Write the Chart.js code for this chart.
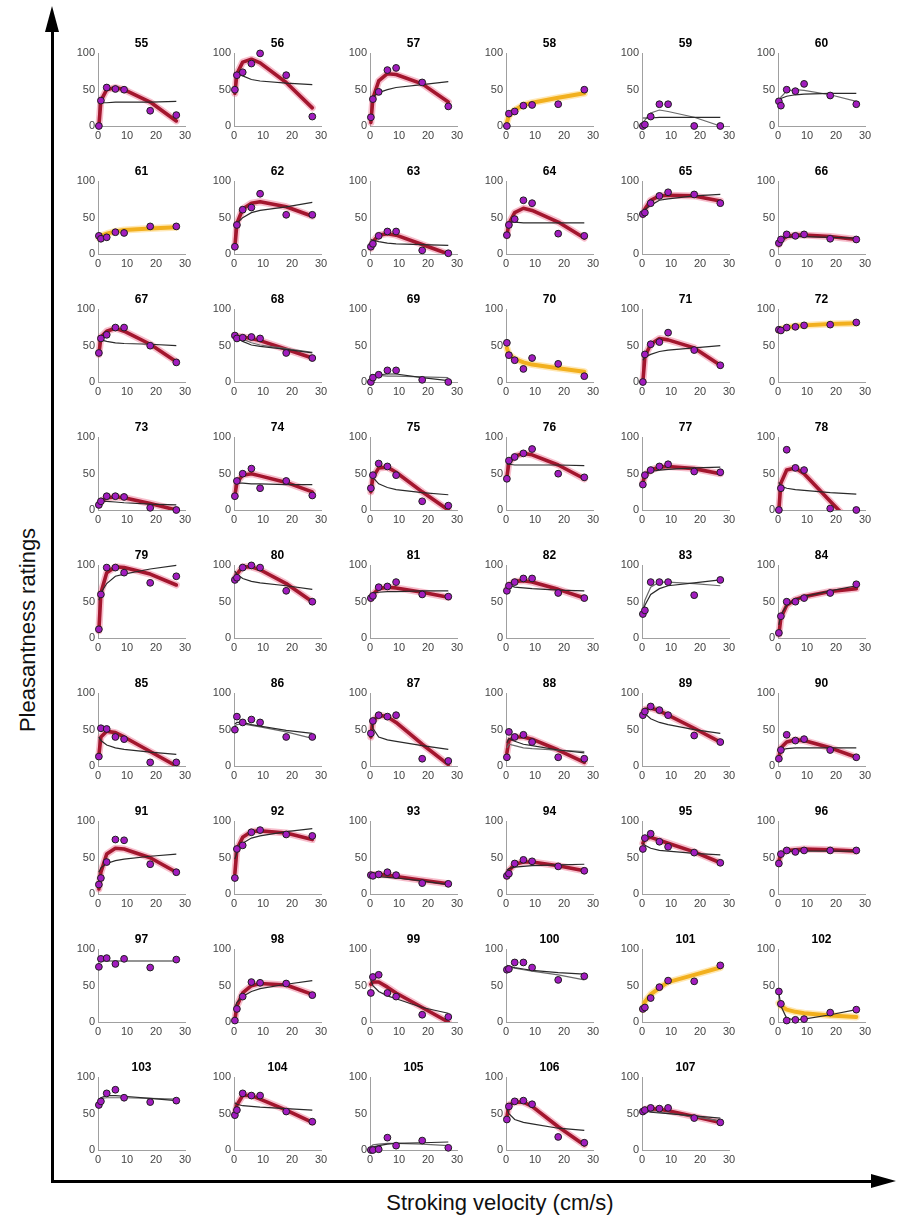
<!DOCTYPE html>
<html>
<head>
<meta charset="utf-8">
<script src="https://cdn.jsdelivr.net/npm/chart.js@4.4.1/dist/chart.umd.min.js"></script>
<style>
  body { margin: 0; background: #fff; font-family: "Liberation Sans", Arial, sans-serif; }
  #page { position: relative; width: 897px; height: 1220px; overflow: hidden; }
  canvas { position: absolute; }
  .line { position: absolute; background: #000; }
  .xlabel { position: absolute; left: 0; width: 1000px; top: 1190px; text-align: center; font-size: 22px; color: #111; }
  .ylabel { position: absolute; left: 28px; top: 630px; transform: translate(-50%, -50%) rotate(-90deg); font-size: 22px; color: #111; white-space: nowrap; }
</style>
</head>
<body>
<div id="page">
  <div class="line" style="left:51px;top:30px;width:3px;height:1153px"></div>
  <div style="position:absolute;left:45px;top:6px;width:0;height:0;border-left:7px solid transparent;border-right:7px solid transparent;border-bottom:26px solid #000"></div>
  <div class="line" style="left:51px;top:1180px;width:822px;height:3px"></div>
  <div style="position:absolute;left:871px;top:1174px;width:0;height:0;border-top:7px solid transparent;border-bottom:7px solid transparent;border-left:25px solid #000"></div>
  <div class="ylabel">Pleasantness ratings</div>
  <div class="xlabel">Stroking velocity (cm/s)</div>
</div>
<script>
// stroking velocities (cm/s) shared by every panel
const velocities = [0.3, 1, 3, 6, 9, 18, 27];
const xTicks = [0, 10, 20, 30];
const yTicks = [0, 50, 100];

const panelIds = [55, 56, 57, 58, 59, 60, 61, 62, 63, 64, 65, 66, 67, 68, 69, 70, 71, 72,
  73, 74, 75, 76, 77, 78, 79, 80, 81, 82, 83, 84, 85, 86, 87, 88, 89, 90,
  91, 92, 93, 94, 95, 96, 97, 98, 99, 100, 101, 102, 103, 104, 105, 106, 107];

// mean pleasantness rating per velocity (dots)
const ratings = [
  [0, 35, 53, 51, 50, 21, 15], [50, 70, 74, 86, 100, 70, 13], [12, 37, 47, 77, 80, 60, 27],
  [0, 17, 20, 28, 29, 30, 50], [0, 2, 13, 30, 30, 0, 0], [34, 28, 50, 48, 58, 42, 30],
  [25, 21, 23, 30, 29, 38, 38], [10, 40, 61, 64, 83, 54, 54], [10, 14, 25, 31, 31, 5, 1],
  [26, 40, 48, 74, 70, 28, 25], [55, 57, 70, 80, 85, 82, 70], [15, 20, 27, 25, 27, 21, 20],
  [40, 60, 65, 75, 75, 50, 27], [64, 60, 61, 62, 60, 40, 33], [0, 6, 10, 16, 16, 3, 0],
  [54, 37, 30, 18, 33, 25, 8], [0, 38, 52, 55, 68, 44, 23], [72, 71, 75, 76, 78, 79, 82],
  [7, 12, 19, 19, 18, 3, 0], [19, 40, 50, 57, 30, 40, 20], [30, 48, 64, 60, 48, 12, 6],
  [43, 68, 73, 78, 84, 50, 45], [35, 48, 55, 60, 63, 53, 52], [0, 30, 83, 58, 55, 2, 0],
  [12, 60, 97, 97, 90, 76, 85], [80, 83, 97, 100, 97, 65, 50], [55, 58, 70, 71, 77, 60, 57],
  [65, 72, 77, 82, 82, 62, 55], [33, 38, 77, 77, 77, 59, 80], [7, 30, 50, 50, 55, 62, 74],
  [13, 52, 51, 40, 37, 5, 5], [50, 68, 60, 64, 60, 40, 40], [45, 62, 70, 68, 70, 10, 7],
  [12, 47, 40, 43, 33, 12, 10], [70, 75, 82, 77, 70, 42, 33], [10, 22, 43, 35, 37, 22, 12],
  [13, 22, 44, 75, 74, 41, 30], [22, 62, 67, 85, 88, 82, 80], [26, 25, 27, 30, 26, 15, 14],
  [25, 28, 42, 47, 45, 38, 32], [62, 77, 83, 72, 65, 57, 43], [42, 55, 60, 58, 60, 60, 60],
  [76, 87, 88, 80, 87, 75, 86], [2, 18, 35, 55, 54, 53, 37], [40, 62, 65, 40, 35, 10, 7],
  [72, 73, 82, 82, 75, 58, 63], [18, 20, 33, 48, 57, 56, 78], [42, 25, 2, 3, 4, 13, 17],
  [62, 67, 78, 83, 72, 66, 68], [48, 55, 78, 75, 75, 53, 39], [0, 0, 1, 17, 6, 13, 3],
  [42, 60, 67, 68, 63, 18, 10], [53, 55, 58, 57, 58, 44, 38]
];

// thick fitted curve: 'r' = red, 'y' = yellow, '' = none
const fitKind = ['r', 'r', 'r', 'y', '', '', 'y', 'r', 'r', 'r', 'r', 'r', 'r', 'r', '', 'y', 'r', 'y',
  'r', 'r', 'r', 'r', 'r', 'r', 'r', 'r', 'r', 'r', '', 'r', 'r', '', 'r', 'r', 'r', 'r',
  'r', 'r', 'r', 'r', 'r', 'r', '', 'r', 'r', '', 'y', 'y', '', 'r', '', 'r', 'r'];

const fitCurve = [
  [0, 35, 50, 53, 50, 33, 7], [45, 72, 88, 92, 87, 60, 25], [5, 38, 62, 72, 71, 58, 33],
  [5, 14, 22, 29, 32, 39, 45], null, null,
  [22, 25, 28, 31, 33, 35, 37], [10, 42, 62, 70, 72, 65, 52], [8, 17, 26, 28, 26, 13, 0],
  [25, 42, 57, 63, 60, 44, 22], [54, 62, 74, 80, 81, 80, 73], [13, 19, 24, 26, 26, 24, 20],
  [38, 62, 70, 74, 70, 52, 28], [64, 63, 62, 60, 57, 45, 33], null,
  [47, 38, 32, 27, 24, 19, 14], [0, 35, 52, 60, 58, 47, 23], [71, 73, 75, 77, 78, 80, 81],
  [7, 12, 17, 18, 17, 9, 0], [20, 38, 48, 50, 47, 38, 25], [25, 45, 58, 59, 52, 25, 0],
  [45, 65, 74, 78, 76, 62, 43], [38, 48, 55, 59, 60, 57, 50], [0, 37, 55, 58, 50, 12, -25],
  [10, 62, 90, 98, 97, 88, 73], [82, 88, 98, 98, 94, 75, 50], [54, 60, 68, 70, 69, 63, 56],
  [67, 73, 78, 79, 77, 67, 55], null, [5, 28, 45, 53, 57, 64, 68],
  [15, 40, 48, 46, 40, 20, 0], null, [40, 62, 70, 68, 60, 30, 2],
  [18, 35, 40, 40, 37, 22, 5], [73, 78, 80, 76, 70, 52, 33], [12, 25, 33, 36, 35, 25, 12],
  [7, 30, 55, 63, 62, 50, 30], [28, 62, 78, 86, 87, 84, 75], [27, 27, 27, 26, 24, 19, 14],
  [24, 32, 41, 44, 44, 39, 32], [70, 76, 78, 74, 70, 58, 43], [45, 55, 60, 61, 62, 61, 59],
  null, [3, 22, 40, 50, 53, 51, 38], [52, 55, 55, 48, 40, 20, 0],
  null, [17, 28, 38, 47, 55, 65, 75], [26, 22, 17, 14, 12, 9, 7],
  null, [50, 62, 75, 75, 70, 55, 38], null,
  [45, 62, 66, 66, 60, 32, 7], [53, 56, 57, 56, 54, 46, 38]
];

// thin black comparison fit
const logFit = [
  [31, 32, 32, 33, 33, 33, 34], [68, 72, 69, 64, 62, 59, 57], [36, 40, 46, 50, 53, 57, 61],
  null, [11, 11, 11, 12, 12, 12, 12], [35, 38, 41, 43, 44, 45, 45],
  null, [38, 42, 50, 57, 60, 65, 71], [20, 19, 17, 15, 14, 13, 12],
  [44, 44, 44, 43, 43, 43, 43], [56, 61, 67, 74, 76, 80, 82], [20, 22, 23, 24, 24, 23, 22],
  [60, 58, 56, 54, 53, 52, 50], [62, 61, 56, 51, 49, 45, 40], [8, 9, 10, 11, 11, 6, 2],
  null, [30, 34, 38, 42, 44, 47, 50], null,
  [12, 12, 12, 11, 10, 8, 7], [37, 37, 37, 36, 36, 35, 35], [52, 45, 36, 31, 28, 24, 21],
  [63, 63, 62, 62, 62, 62, 61], [48, 50, 53, 55, 56, 58, 59], [38, 33, 30, 28, 27, 24, 22],
  [52, 62, 75, 85, 88, 95, 100], [92, 88, 82, 78, 76, 72, 67], [60, 62, 63, 64, 64, 65, 65],
  [75, 73, 70, 69, 68, 66, 65], [35, 45, 60, 68, 72, 76, 80], [18, 32, 45, 53, 57, 65, 72],
  [40, 35, 29, 25, 23, 19, 16], [58, 60, 60, 57, 55, 49, 45], [65, 52, 40, 36, 34, 28, 23],
  [32, 38, 34, 30, 28, 22, 18], [78, 72, 65, 60, 57, 50, 45], [20, 22, 24, 25, 25, 25, 25],
  [30, 36, 42, 46, 48, 52, 55], [48, 57, 70, 77, 80, 86, 90], [25, 25, 24, 23, 22, 18, 13],
  [33, 35, 37, 38, 39, 40, 41], [70, 67, 63, 60, 59, 56, 54], [55, 57, 58, 59, 59, 59, 59],
  [83, 84, 84, 84, 84, 84, 84], [20, 27, 35, 42, 46, 52, 57], [58, 50, 42, 36, 32, 20, 12],
  [78, 77, 75, 73, 71, 68, 66], null, [40, 22, 5, 3, 4, 10, 17],
  [68, 72, 75, 75, 74, 71, 68], [65, 63, 61, 60, 59, 57, 55], [2, 4, 6, 8, 9, 10, 11],
  [57, 50, 42, 38, 36, 30, 27], [55, 54, 52, 51, 50, 47, 44]
];

// second thin (grey) fit, only where it is visible
const logFit2 = {
  59: [5, 8, 18, 22, 20, 12, 0],
  60: [30, 40, 48, 50, 49, 43, 34],
  68: [63, 62, 59, 54, 51, 46, 41],
  69: [10, 10, 9, 8, 8, 7, 6],
  83: [38, 52, 70, 77, 77, 75, 72],
  86: [55, 57, 58, 56, 54, 47, 38],
  88: [25, 30, 28, 25, 24, 22, 20],
  100: [75, 76, 74, 72, 70, 65, 58],
  103: [70, 71, 72, 72, 72, 71, 70],
  105: [5, 7, 8, 9, 9, 8, 6],
  107: [52, 53, 53, 52, 51, 46, 40]
};

const FONT = '"Liberation Sans", Arial, sans-serif';
const COL_X = 98, COL_STEP = 136, ROW_Y = 53, ROW_STEP = 128;
const PLOT_W = 87, PLOT_H = 73;
const PAD_L = 34, PAD_T = 22, PAD_R = 14, PAD_B = 20;

const page = document.getElementById('page');

function pts(vals) {
  return vals.map((v, k) => ({ x: velocities[k], y: v }));
}

const lineClip = { left: 6, right: 6, top: 6, bottom: 0 };

panelIds.forEach((id, i) => {
  const col = i % 6, row = Math.floor(i / 6);
  const canvas = document.createElement('canvas');
  canvas.width = PAD_L + PLOT_W + PAD_R;
  canvas.height = PAD_T + PLOT_H + PAD_B;
  canvas.style.left = (COL_X + COL_STEP * col - PAD_L) + 'px';
  canvas.style.top = (ROW_Y + ROW_STEP * row - PAD_T) + 'px';
  page.appendChild(canvas);

  const datasets = [{
    type: 'scatter', data: pts(ratings[i]), order: 0, clip: false,
    pointRadius: 3.4, pointBackgroundColor: '#a21cbf', pointBorderColor: '#1e1e1e', pointBorderWidth: 1
  }];
  if (logFit[i]) {
    datasets.push({ data: pts(logFit[i]), order: 1, borderColor: '#2a2a2a', borderWidth: 1.2, pointRadius: 0, clip: lineClip });
  }
  if (logFit2[id]) {
    datasets.push({ data: pts(logFit2[id]), order: 1.5, borderColor: '#6a6a6a', borderWidth: 1.2, pointRadius: 0, clip: lineClip });
  }
  if (fitCurve[i]) {
    const red = fitKind[i] === 'r';
    datasets.push({ data: pts(fitCurve[i]), order: 2, borderColor: red ? '#a3162e' : '#f2b01e',
      borderWidth: red ? 3.6 : 4, pointRadius: 0, clip: lineClip, borderCapStyle: 'round', borderJoinStyle: 'round' });
    datasets.push({ data: pts(fitCurve[i]), order: 3, borderColor: red ? 'rgba(232,70,110,0.35)' : 'rgba(255,205,90,0.45)',
      borderWidth: 7, pointRadius: 0, clip: lineClip, borderCapStyle: 'round', borderJoinStyle: 'round' });
  }

  new Chart(canvas, {
    type: 'line',
    data: { datasets },
    options: {
      responsive: false,
      animation: false,
      events: [],
      layout: { padding: { left: 0, top: 0, right: PAD_R, bottom: 0 } },
      plugins: {
        legend: { display: false },
        tooltip: { enabled: false },
        title: {
          display: true, text: String(id), fullSize: false, color: '#000',
          font: { family: FONT, size: 12, weight: 'bold' }, padding: { top: 5, bottom: 3 }
        }
      },
      scales: {
        x: {
          type: 'linear', min: 0, max: 30,
          grid: { display: false, drawTicks: false },
          border: { color: '#a0a0a0', width: 1 },
          ticks: { color: '#444', font: { family: FONT, size: 11 }, padding: 3, maxRotation: 0 },
          afterBuildTicks: s => { s.ticks = xTicks.map(v => ({ value: v })); },
          afterFit: s => { s.height = PAD_B; }
        },
        y: {
          min: 0, max: 100,
          grid: { display: false, drawTicks: false },
          border: { color: '#a0a0a0', width: 1 },
          ticks: { color: '#444', font: { family: FONT, size: 11 }, padding: 3 },
          afterBuildTicks: s => { s.ticks = yTicks.map(v => ({ value: v })); },
          afterFit: s => { s.width = PAD_L; }
        }
      }
    }
  });
});
</script>
</body>
</html>
